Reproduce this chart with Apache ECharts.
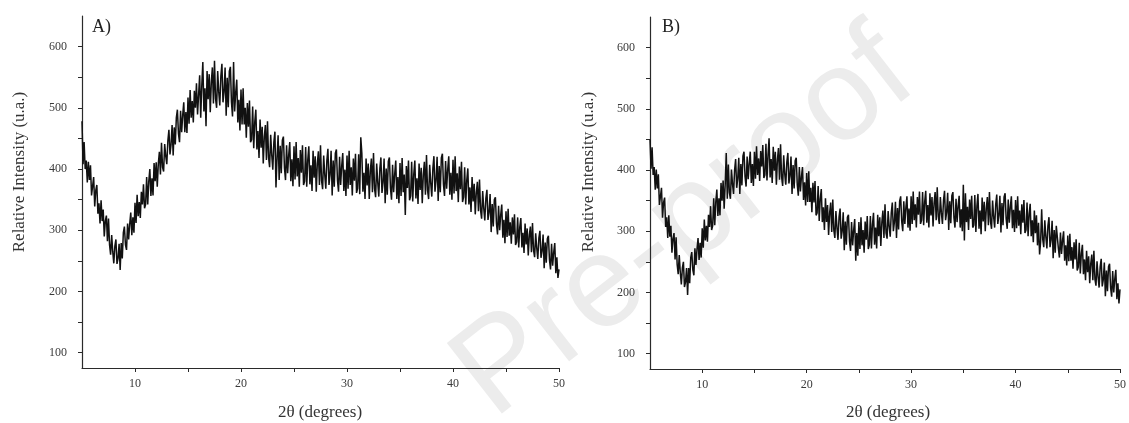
<!DOCTYPE html>
<html><head><meta charset="utf-8">
<script src="https://cdn.jsdelivr.net/npm/echarts@6/dist/echarts.min.js"></script>
<style>html,body{margin:0;padding:0;background:#fff}#c{width:1129px;height:423px}</style>
</head><body><div id="c"></div>
<script>
// scan grid: 2θ from 5 to 50 degrees, step 0.1 (one row per degree)
const scanStart = 5, scanStep = 0.1;

const intensityA = [
478,408,444,400,414,378,412,382,406,357,
356,387,339,365,374,327,344,311,349,315,
334,290,315,324,282,319,276,260,292,265,
246,274,285,245,254,278,235,279,254,296,
306,276,268,311,285,310,329,292,321,296,
345,312,358,323,346,320,363,342,375,336,
342,387,342,380,400,356,385,357,410,380,
411,371,409,428,391,443,403,396,441,421,
408,446,464,424,440,472,422,468,440,484,
497,458,444,495,460,488,509,460,493,459,
517,474,529,484,511,476,528,500,540,489,
492,553,484,536,575,494,532,470,560,514,
555,493,542,566,507,577,515,500,560,526,
504,552,572,509,526,566,487,549,501,560,
567,509,486,575,494,525,546,476,513,463,
530,473,532,473,500,451,508,469,512,444,
448,502,434,477,497,432,462,418,481,435,
469,409,453,472,415,478,419,403,456,423,
399,444,461,370,418,455,382,438,393,447,
453,402,382,439,393,423,444,380,416,372,
437,383,444,388,418,371,431,394,439,374,
380,436,371,415,437,375,406,364,430,386,
421,363,409,429,374,439,381,367,422,391,
368,414,433,374,391,430,357,414,371,426,
432,382,363,420,374,405,426,364,399,356,
422,368,430,374,403,357,417,381,425,361,
368,424,359,452,426,363,394,351,417,373,
409,351,397,417,362,426,368,354,409,378,
355,401,419,361,378,417,344,401,358,413,
419,369,350,407,362,392,414,351,387,344,
410,356,418,362,391,325,405,369,414,349,
356,412,347,392,414,352,385,343,409,366,
402,344,391,412,358,423,365,351,407,377,
355,401,421,363,381,420,348,405,362,418,
425,375,356,413,368,399,421,358,394,350,
415,360,421,364,393,346,404,367,412,346,
354,403,342,382,401,342,370,330,387,347,
376,326,362,379,331,383,333,319,364,336,
316,352,366,317,329,359,297,343,306,350,
354,311,293,340,300,325,342,288,317,279,
331,289,335,291,313,278,321,293,326,276,
281,321,272,305,320,272,296,263,311,277,
303,259,292,306,264,312,267,256,295,271,
253,287,299,255,266,293,238,280,247,286,
291,252,236,278,242,264,279,230,256,222,
236
];

const intensityB = [
450,402,437,392,405,368,401,370,393,343,
341,371,322,347,355,307,323,289,326,291,
309,265,288,297,254,290,246,230,261,233,
213,240,250,209,217,240,196,240,215,257,
266,237,228,272,245,271,289,253,281,257,
305,273,319,285,309,283,327,307,341,302,
309,354,310,348,368,325,354,326,379,350,
383,337,377,428,353,409,363,353,401,377,
361,400,418,371,386,420,361,410,375,423,
430,389,373,422,385,411,430,379,410,374,
430,386,439,392,419,382,431,406,441,387,
392,443,383,425,452,388,418,379,438,399,
430,376,417,436,384,442,389,374,424,394,
376,413,428,378,391,422,361,408,370,415,
420,376,358,405,365,389,405,351,380,342,
395,348,398,348,371,331,379,347,382,326,
330,374,317,353,369,315,339,302,354,315,
343,294,330,347,299,352,302,289,333,306,
286,323,337,288,300,331,269,316,278,323,
327,284,268,315,277,302,320,252,297,260,
315,271,323,277,302,265,316,286,325,271,
278,325,272,311,330,278,306,272,327,292,
323,276,315,334,289,344,297,288,333,308,
291,330,347,300,315,348,289,338,303,349,
357,316,300,349,312,339,357,306,337,301,
357,312,365,318,344,306,356,327,365,312,
318,364,310,348,366,314,343,306,362,326,
356,308,346,364,318,372,324,312,356,330,
312,350,366,318,331,363,302,349,313,358,
364,322,306,353,315,341,358,306,336,300,
376,285,362,315,340,302,352,320,358,306,
310,359,299,341,361,304,334,295,355,316,
348,300,338,356,310,364,316,304,350,324,
306,344,360,312,326,358,298,346,310,356,
362,320,304,352,314,340,357,305,335,299,
351,305,357,309,334,295,344,314,351,297,
302,347,292,328,345,292,318,282,334,297,
326,277,314,262,283,336,287,274,318,291,
272,309,323,274,286,317,256,302,265,309,
311,272,257,298,263,285,300,252,277,244,
293,251,296,252,274,239,282,254,287,236,
241,281,231,264,278,230,254,220,268,233,
259,215,247,262,220,268,222,211,251,226,
208,242,255,210,221,249,194,236,202,242,
247,208,193,235,200,222,237,189,215,182,
205
];

const xTickValues = [10,15,20,25,30,35,40,45,50];
const xLabelValues = [10,20,30,40,50];
const yTickValues = [100,150,200,250,300,350,400,450,500,550,600];
const yLabelValues = [100,200,300,400,500,600];
const panelLabels = ['A)', 'B)'];
const xTitle = '2θ (degrees)';
const yTitle = 'Relative Intensity (u.a.)';
const watermark = 'Pre-proof';

function toPairs(arr) {
  return arr.map((v, i) => [Math.round((scanStart + i * scanStep) * 10) / 10, v]);
}

const serif = '"Liberation Serif", "DejaVu Serif", serif';
const grids = [
  {left: 82, top: 16, width: 477, height: 352},
  {left: 650, top: 17, width: 477, height: 352}
];

function makeX(idx) {
  return {
    type: 'value', gridIndex: idx, min: 5, max: 50,
    axisLine: {show: true, onZero: false, lineStyle: {color: '#2a2a2a', width: 1.2}},
    axisTick: {show: true, customValues: xTickValues, length: 4, lineStyle: {color: '#2a2a2a', width: 1}},
    axisLabel: {customValues: xLabelValues, margin: 10, color: '#3a3a3a', fontFamily: serif, fontSize: 12},
    splitLine: {show: false}
  };
}
function makeY(idx) {
  return {
    type: 'value', gridIndex: idx, min: 75, max: 650,
    axisLine: {show: true, onZero: false, lineStyle: {color: '#2a2a2a', width: 1.2}},
    axisTick: {show: true, customValues: yTickValues, length: 4, lineStyle: {color: '#2a2a2a', width: 1}},
    axisLabel: {customValues: yLabelValues, margin: 15, color: '#3a3a3a', fontFamily: serif, fontSize: 12},
    splitLine: {show: false}
  };
}

const chart = echarts.init(document.getElementById('c'), null, {renderer: 'canvas'});
chart.setOption({
  animation: false,
  backgroundColor: '#ffffff',
  grid: grids,
  xAxis: [makeX(0), makeX(1)],
  yAxis: [makeY(0), makeY(1)],
  series: [
    {type: 'line', xAxisIndex: 0, yAxisIndex: 0, data: toPairs(intensityA), showSymbol: false, sampling: null,
     lineStyle: {color: '#111', width: 1.5}, z: 5},
    {type: 'line', xAxisIndex: 1, yAxisIndex: 1, data: toPairs(intensityB), showSymbol: false, sampling: null,
     lineStyle: {color: '#111', width: 1.5}, z: 5}
  ],
  graphic: [
    {type: 'text', x: 685, y: 225, rotation: 38 * Math.PI / 180, z: -10, silent: true,
     style: {text: watermark, font: '130px "Liberation Sans", Arial, sans-serif', fill: '#ececec', textAlign: 'center', textVerticalAlign: 'middle'}},
    {type: 'text', x: 92, y: 27, style: {text: panelLabels[0], font: '18px ' + serif, fill: '#222', textAlign: 'left', textVerticalAlign: 'middle'}},
    {type: 'text', x: 662, y: 27, style: {text: panelLabels[1], font: '18px ' + serif, fill: '#222', textAlign: 'left', textVerticalAlign: 'middle'}},
    {type: 'text', x: 20, y: 172, rotation: Math.PI / 2, style: {text: yTitle, font: '17px ' + serif, fill: '#333', textAlign: 'center', textVerticalAlign: 'middle'}},
    {type: 'text', x: 589, y: 172, rotation: Math.PI / 2, style: {text: yTitle, font: '17px ' + serif, fill: '#333', textAlign: 'center', textVerticalAlign: 'middle'}},
    {type: 'text', x: 320, y: 413, style: {text: xTitle, font: '17px ' + serif, fill: '#333', textAlign: 'center', textVerticalAlign: 'middle'}},
    {type: 'text', x: 888, y: 413, style: {text: xTitle, font: '17px ' + serif, fill: '#333', textAlign: 'center', textVerticalAlign: 'middle'}}
  ]
});
</script>
</body></html>
